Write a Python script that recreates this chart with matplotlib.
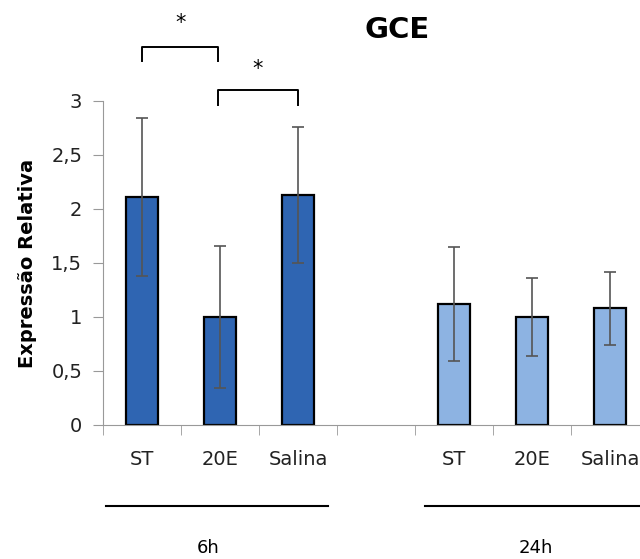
import matplotlib.pyplot as plt
import numpy as np

labels = ["ST", "20E", "Salina", "", "ST", "20E", "Salina"]
values = [2.11, 1.00, 2.13, np.nan, 1.12, 1.00, 1.08]
errors = [0.73, 0.66, 0.63, np.nan, 0.53, 0.36, 0.34]
colors = ["#2f65b2", "#2f65b2", "#2f65b2", "none", "#8db3e2", "#8db3e2", "#8db3e2"]
groups = ["6h", "24h"]

fig = plt.figure(figsize=(6.4, 5.59), dpi=100)
ax = fig.add_axes([103 / 640, 134 / 559, 546 / 640, 324 / 559])

x = np.arange(len(labels))
ax.bar(x, values, width=0.41, color=colors, edgecolor="black", linewidth=1.6, zorder=2)
ax.errorbar(x, values, yerr=errors, fmt="none", ecolor="#555555", elinewidth=1.2,
            capsize=4, capthick=1.2, zorder=3)

ax.set_xlim(-0.5, 6.5)
ax.set_ylim(0, 3)
ax.set_yticks([0, 0.5, 1, 1.5, 2, 2.5, 3])
ax.set_yticklabels(["0", "0,5", "1", "1,5", "2", "2,5", "3"], fontsize=14, color="#222222")
ax.set_xticks(x)
ax.set_xticklabels(labels, fontsize=14, color="#222222")
ax.set_xticks(np.arange(-0.5, 7, 1), minor=True)
ax.tick_params(axis="x", which="major", length=0, pad=18)
ax.tick_params(axis="x", which="minor", length=7, color="#999999", direction="out")
ax.tick_params(axis="y", length=7, color="#999999", pad=8)
for s in ["top", "right"]:
    ax.spines[s].set_visible(False)
for s in ["left", "bottom"]:
    ax.spines[s].set_color("#999999")
ax.set_ylabel("Expressão Relativa", fontsize=14, fontweight="bold", labelpad=10)

fig.text(397 / 640, 1 - 30 / 559, "GCE", fontsize=21, fontweight="bold",
         ha="center", va="center")

# group lines and labels
trans = ax.get_xaxis_transform()
ax.plot([-0.46, 2.38], [-0.25, -0.25], color="black", lw=1.5, transform=trans, clip_on=False)
ax.plot([3.63, 6.6], [-0.25, -0.25], color="black", lw=1.5, transform=trans, clip_on=False)
ax.text(0.85, -0.38, groups[0], transform=trans, ha="center", va="center", fontsize=13)
ax.text(5.05, -0.38, groups[1], transform=trans, ha="center", va="center", fontsize=13)

# significance brackets
def bracket(x0, x1, y, h, star_y):
    ax.plot([x0, x0, x1, x1], [y - h, y, y, y - h], color="black", lw=1.4, clip_on=False)
    ax.text((x0 + x1) / 2, star_y, "*", ha="center", va="center", fontsize=15, clip_on=False)

bracket(0, 0.98, 3.5, 0.13, 3.72)
bracket(0.97, 2, 3.1, 0.14, 3.3)

fig.savefig("out.png", dpi=100)
